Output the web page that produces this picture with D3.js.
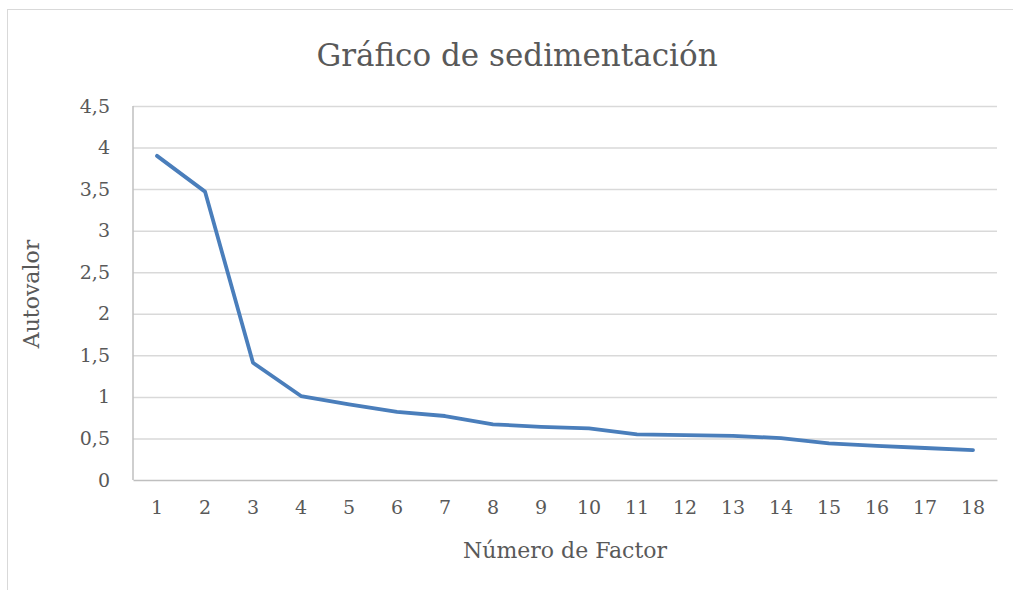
<!DOCTYPE html>
<html>
<head>
<meta charset="utf-8">
<script src="https://cdn.jsdelivr.net/npm/d3@7"></script>
<style>
  body { margin: 0; background: #fff; }
  svg text { font-family: "DejaVu Serif", "Liberation Serif", serif; fill: #595959; }
</style>
</head>
<body>
<svg id="chart" width="1013" height="590"></svg>
<script>
'use strict';

const factors = d3.range(1, 19);
const eigenvalues = [3.90, 3.47, 1.41, 1.01, 0.91, 0.82, 0.77, 0.67, 0.64, 0.62,
    0.55, 0.54, 0.53, 0.505, 0.44, 0.41, 0.385, 0.36];
const yTicks = [0, 0.5, 1, 1.5, 2, 2.5, 3, 3.5, 4, 4.5];

const margin = {top: 106, right: 16, bottom: 110, left: 133};
const width = 864;
const height = 374;
const svg = d3.select('#chart');

// outer chart border
svg.append('rect')
    .attr('x', 7.5).attr('y', 9.5)
    .attr('width', 1020).attr('height', 600)
    .attr('fill', 'none')
    .attr('stroke', '#d9d9d9');

const scaleX = d3.scaleBand()
    .domain(factors)
    .range([0, width]);

const scaleY = d3.scaleLinear()
    .domain([0, 4.5])
    .range([height, 0]);

const inner = svg.append('g')
    .attr('transform', 'translate(' + margin.left + ',' + margin.top + ')');

// gridlines
inner.append('g')
    .call(d3.axisLeft(scaleY)
        .tickValues(yTicks.slice(1))
        .tickFormat('')
        .tickSize(-width))
    .call(g => g.select('.domain').remove())
    .selectAll('line')
    .attr('stroke', '#d9d9d9')
    .attr('stroke-width', 1.5);

// y labels
inner.append('g')
    .call(d3.axisLeft(scaleY)
        .tickValues(yTicks)
        .tickFormat(d => String(d).replace('.', ','))
        .tickSize(0)
        .tickPadding(23))
    .call(g => g.select('.domain').remove())
    .selectAll('text')
    .attr('font-size', 19)
    .attr('fill', '#595959');

// left axis line
inner.append('line')
    .attr('x1', 0).attr('x2', 0)
    .attr('y1', 0).attr('y2', height)
    .attr('stroke', '#bfbfbf')
    .attr('stroke-width', 1.5);

// x axis
inner.append('g')
    .attr('transform', 'translate(0,' + height + ')')
    .call(d3.axisBottom(scaleX).tickSize(0).tickPadding(21))
    .call(g => g.select('.domain')
        .attr('stroke', '#bfbfbf')
        .attr('stroke-width', 1.5))
    .selectAll('text')
    .attr('font-size', 19)
    .attr('fill', '#595959');

// line
const line = d3.line()
    .x((d, i) => scaleX(factors[i]) + scaleX.bandwidth() / 2)
    .y(d => scaleY(d));

inner.append('path')
    .datum(eigenvalues)
    .attr('d', line)
    .attr('fill', 'none')
    .attr('stroke', '#4a7ebb')
    .attr('stroke-width', 3.8)
    .attr('stroke-linejoin', 'round')
    .attr('stroke-linecap', 'round');

// titles
svg.append('text')
    .attr('x', 517).attr('y', 66)
    .attr('text-anchor', 'middle')
    .attr('font-size', 31)
    .text('Gráfico de sedimentación');

svg.append('text')
    .attr('x', 565).attr('y', 558)
    .attr('text-anchor', 'middle')
    .attr('font-size', 22)
    .text('Número de Factor');

svg.append('text')
    .attr('transform', 'translate(39,294) rotate(-90)')
    .attr('text-anchor', 'middle')
    .attr('font-size', 22)
    .text('Autovalor');
</script>
</body>
</html>
